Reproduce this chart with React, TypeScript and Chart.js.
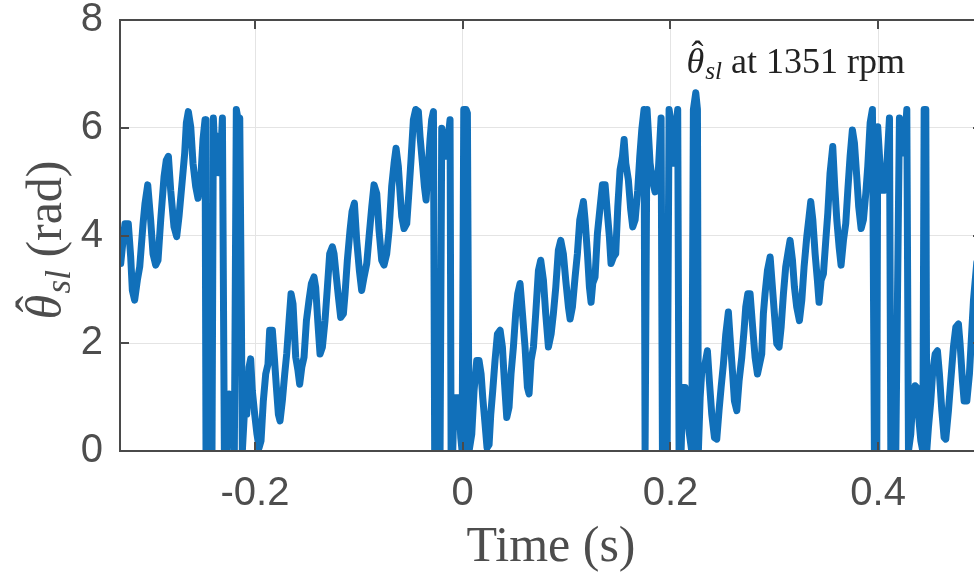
import React, { useEffect, useRef } from 'react';
import { Chart, registerables } from 'chart.js';

Chart.register(...registerables);

// ---- data ----
const TIME_S = [
  -0.3293, -0.3277, -0.3252, -0.3220, -0.3197, -0.3181, -0.3159, -0.3133, -0.3110, -0.3078,
  -0.3059, -0.3033, -0.3005, -0.2982, -0.2956, -0.2934, -0.2908, -0.2876, -0.2854, -0.2834,
  -0.2812, -0.2780, -0.2754, -0.2732, -0.2700, -0.2677, -0.2661, -0.2642, -0.2619, -0.2597,
  -0.2571, -0.2549, -0.2523, -0.2501, -0.2481, -0.2472, -0.2414,
  -0.2401, -0.2379, -0.2356, -0.2337, -0.2314, -0.2295, -0.2269, -0.2250, -0.2234, -0.2221,
  -0.2199, -0.2180, -0.2160, -0.2147, -0.2131, -0.2122, -0.2103, -0.2080, -0.2058, -0.2042,
  -0.2026, -0.2003, -0.1981, -0.1961, -0.1942, -0.1920, -0.1897, -0.1875, -0.1859, -0.1833,
  -0.1814, -0.1794, -0.1775, -0.1759, -0.1737, -0.1714, -0.1695, -0.1672, -0.1653, -0.1634,
  -0.1608, -0.1586, -0.1570, -0.1550, -0.1528, -0.1505, -0.1480, -0.1457, -0.1432, -0.1416,
  -0.1396, -0.1374, -0.1351, -0.1326, -0.1303, -0.1281, -0.1255,
  -0.1239, -0.1220, -0.1197, -0.1175, -0.1149, -0.1133, -0.1111, -0.1085, -0.1066, -0.1043,
  -0.1021, -0.0995, -0.0973, -0.0950, -0.0924, -0.0899, -0.0876, -0.0854, -0.0828, -0.0806,
  -0.0780, -0.0758, -0.0732, -0.0709, -0.0684, -0.0661, -0.0642, -0.0620, -0.0603, -0.0587,
  -0.0565, -0.0539, -0.0517, -0.0498, -0.0475, -0.0453, -0.0427, -0.0411, -0.0388, -0.0369,
  -0.0353, -0.0331, -0.0315, -0.0299, -0.0282, -0.0270, -0.0250, -0.0234, -0.0218, -0.0202,
  -0.0186, -0.0170, -0.0154, -0.0138, -0.0122, -0.0112, -0.0096, -0.0083, -0.0058, -0.0039,
  -0.0019, -0.0006, 0.0010, 0.0032, 0.0045, 0.0061, 0.0087, 0.0109, 0.0135, 0.0157,
  0.0177, 0.0193, 0.0215, 0.0234, 0.0254, 0.0270, 0.0289, 0.0311, 0.0334, 0.0360,
  0.0382, 0.0401, 0.0424, 0.0446, 0.0465, 0.0488, 0.0510, 0.0530, 0.0552, 0.0575,
  0.0600, 0.0623, 0.0639, 0.0658, 0.0681, 0.0703, 0.0729, 0.0751, 0.0777, 0.0799,
  0.0825, 0.0851, 0.0873, 0.0896, 0.0921, 0.0944, 0.0969, 0.0992, 0.1018, 0.1034,
  0.1056, 0.1082, 0.1104, 0.1127, 0.1146, 0.1162, 0.1178, 0.1201, 0.1220, 0.1236,
  0.1252, 0.1274, 0.1297, 0.1323, 0.1345, 0.1371, 0.1393, 0.1412, 0.1428, 0.1451,
  0.1473, 0.1493, 0.1515, 0.1538, 0.1554, 0.1570, 0.1595, 0.1618, 0.1637, 0.1660,
  0.1685, 0.1705, 0.1724, 0.1746, 0.1756, 0.1775, 0.1804, 0.1826, 0.1852, 0.1884,
  0.1910, 0.1923, 0.1948, 0.1968, 0.1987, 0.2013, 0.2029, 0.2045, 0.2070, 0.2083,
  0.2103, 0.2119, 0.2141, 0.2160, 0.2183, 0.2205, 0.2221, 0.2244, 0.2260, 0.2269,
  0.2286, 0.2302, 0.2327, 0.2356, 0.2375, 0.2398, 0.2424, 0.2446, 0.2468, 0.2488,
  0.2510, 0.2533, 0.2558, 0.2574, 0.2597, 0.2616, 0.2639, 0.2661, 0.2687, 0.2709,
  0.2725, 0.2745, 0.2767, 0.2789, 0.2815, 0.2838,
  0.2879, 0.2895, 0.2911, 0.2934, 0.2960, 0.2982, 0.3001, 0.3024, 0.3046, 0.3066,
  0.3088, 0.3110, 0.3136, 0.3152, 0.3175, 0.3194, 0.3216, 0.3242, 0.3265, 0.3287,
  0.3313, 0.3335, 0.3351, 0.3371, 0.3393, 0.3415, 0.3431, 0.3451, 0.3473, 0.3496,
  0.3515, 0.3537, 0.3563, 0.3582, 0.3602, 0.3624, 0.3643, 0.3666, 0.3688, 0.3708,
  0.3730, 0.3752, 0.3772, 0.3794, 0.3813, 0.3836, 0.3858, 0.3881, 0.3900, 0.3923,
  0.3945, 0.3964, 0.3987, 0.3996, 0.4019, 0.4035, 0.4057, 0.4083, 0.4109, 0.4122,
  0.4147, 0.4170, 0.4205, 0.4221, 0.4244, 0.4260, 0.4276, 0.4292, 0.4314, 0.4334,
  0.4356, 0.4372, 0.4388, 0.4411, 0.4430, 0.4443, 0.4459, 0.4468, 0.4484, 0.4507,
  0.4526, 0.4549, 0.4571, 0.4590, 0.4613, 0.4635, 0.4651, 0.4677, 0.4699, 0.4725,
  0.4748, 0.4773, 0.4789, 0.4812, 0.4828, 0.4854, 0.4879, 0.4902, 0.4918, 0.4950,
];

const THETA_RAD = [
  3.48, 3.79, 4.22, 4.22, 3.60, 2.98, 2.80, 3.17, 3.42, 4.22,
  4.60, 4.94, 4.29, 3.66, 3.45, 3.54, 4.29, 5.09, 5.40, 5.47,
  4.84, 4.16, 3.98, 4.35, 5.03, 5.53, 6.09, 6.30, 6.02, 5.34,
  4.91, 4.69, 5.03, 5.78, 6.15, 0, 0,
  6.18, 5.16, 5.84, 5.16, 6.18, 0, 0, 1.06, 0.68, 1.02,
  0, 6.34, 6.12, 6.18, 2.42, 0, 0.68, 0.68, 1.55, 1.71,
  1.12, 0.68, 0.31, 0.06, 0.19, 0.93, 1.43, 1.61, 2.24, 2.24,
  1.74, 1.18, 0.68, 0.56, 0.93, 1.43, 1.80, 2.42, 2.92, 2.73,
  1.74, 1.49, 1.24, 1.55, 1.74, 2.42, 2.80, 3.11, 3.23, 3.04,
  2.42, 1.80, 1.93, 2.42, 3.04, 3.66, 3.79,
  3.66, 3.29, 2.86, 2.48, 2.55, 2.92, 3.54, 4.10, 4.44, 4.60,
  3.91, 3.35, 2.98, 3.23, 3.48, 4.04, 4.53, 4.94, 4.78, 4.10,
  3.54, 3.45, 3.66, 4.10, 4.91, 5.34, 5.62, 5.28, 4.78, 4.35,
  4.13, 4.22, 4.84, 5.40, 6.15, 6.34, 6.30, 5.84, 5.34, 4.91,
  4.66, 5.28, 5.78, 6.15, 6.30, 0, 0, 0.50, 0, 5.99,
  5.84, 5.47, 5.47, 5.84, 6.15, 0, 0, 0.99, 0.99, 0.99,
  0.25, 0, 6.34, 6.34, 6.27, 0, 0.31, 1.12, 1.68, 1.68,
  1.43, 0.99, 0.50, 0.06, 0.12, 0.68, 1.12, 1.68, 2.17, 2.24,
  1.93, 1.30, 0.62, 0.81, 1.43, 1.93, 2.55, 2.92, 3.11, 2.55,
  1.93, 1.18, 1.06, 1.68, 1.93, 2.55, 3.35, 3.54, 3.17, 2.55,
  1.93, 2.17, 2.55, 3.04, 3.73, 3.91, 3.66, 3.17, 2.67, 2.45,
  2.67, 3.23, 3.66, 4.29, 4.47, 4.63, 4.29, 3.66, 3.04, 2.76,
  3.11, 3.23, 4.04, 4.53, 4.94, 4.94, 4.41, 3.98, 3.48, 3.60,
  3.66, 4.53, 5.22, 5.47, 5.78, 5.34, 5.03, 4.47, 4.16, 4.29,
  4.84, 5.47, 5.96, 6.34, 0, 6.34, 5.34, 5.03, 4.81, 5.22,
  6.18, 0, 0.50, 0, 6.34, 6.02, 5.34, 5.78, 6.34, 0,
  0, 1.18, 1.18, 0.68, 0.31, 0, 6.34, 6.65, 6.34, 0,
  0.99, 1.49, 1.55, 1.86, 1.30, 0.68, 0.25, 0.22, 0.75, 1.18,
  1.61, 2.17, 2.58, 2.11, 1.49, 0.93, 0.75, 1.30, 1.74, 2.24,
  2.67, 2.92, 2.92, 2.36, 1.74, 1.43,
  1.80, 2.55, 2.92, 3.35, 3.60, 3.04, 2.55, 1.99, 1.93, 2.30,
  2.92, 3.42, 3.73, 3.91, 3.54, 3.04, 2.67, 2.42, 2.80, 3.42,
  3.98, 4.35, 4.63, 4.29, 3.66, 3.17, 2.76, 3.17, 3.29, 3.91,
  4.41, 5.16, 5.65, 4.91, 4.29, 3.79, 3.45, 3.91, 4.22, 4.84,
  5.47, 5.96, 5.71, 5.09, 4.53, 4.13, 4.29, 4.78, 5.28, 6.09,
  6.34, 0, 0, 6.02, 5.28, 4.84, 4.84, 5.28, 6.18, 0,
  0.50, 0, 6.18, 5.84, 5.53, 5.84, 6.34, 0, 0.31, 0.99,
  1.21, 1.18, 0.68, 0.19, 0, 6.34, 6.34, 0, 0.43, 0.93,
  1.49, 1.80, 1.86, 1.43, 0.75, 0.25, 0.22, 0.75, 1.30, 1.93,
  2.30, 2.36, 1.99, 1.30, 0.93, 0.93, 1.43, 2.24, 2.80, 3.50,
];

const X_TICKS = [-0.2, 0, 0.2, 0.4];
const X_TICK_LABELS = ['-0.2', '0', '0.2', '0.4'];
const Y_TICKS = [0, 2, 4, 6, 8];
const Y_TICK_LABELS = ['0', '2', '4', '6', '8'];
const X_MIN = -0.33;
const X_MAX = 0.5;
const Y_MIN = 0;
const Y_MAX = 8;

const X_TITLE = 'Time (s)';
const Y_TITLE_UNIT = ' (rad)';
const THETA = '\u03B8';
const HAT = '\u02C6';
const THETA_SUB = 'sl';
const ANNOTATION_TEXT = ' at 1351 rpm';
const ANNOTATION_AT = { x: 0.2154, y: 7.02 };

// ---- styles ----
const LINE_COLOR = '#1170ba';
const AXIS_COLOR = '#4a4a4a';
const GRID_COLOR = '#e4e4e4';
const TEXT_COLOR = '#4d4d4d';
const ANNOT_COLOR = '#222222';
const SANS = '"Liberation Sans", Arial, sans-serif';
const SERIF = '"Liberation Serif", "Times New Roman", serif';

function thetaWidths(ctx: CanvasRenderingContext2D, size: number) {
  ctx.font = `italic ${size}px ${SERIF}`;
  const w1 = ctx.measureText(THETA).width;
  ctx.font = `italic ${size * 0.7}px ${SERIF}`;
  const w2 = ctx.measureText(THETA_SUB).width;
  return { w1, w2, total: w1 + size * 0.03 + w2 };
}

function drawThetaSl(ctx: CanvasRenderingContext2D, x: number, y: number, size: number): number {
  const { w1, total } = thetaWidths(ctx, size);
  ctx.font = `italic ${size}px ${SERIF}`;
  ctx.fillText(THETA, x, y);
  ctx.save();
  ctx.font = `${size}px ${SERIF}`;
  ctx.textAlign = 'center';
  ctx.fillText(HAT, x + w1 * 0.62, y - size * 0.2);
  ctx.restore();
  ctx.font = `italic ${size * 0.7}px ${SERIF}`;
  ctx.fillText(THETA_SUB, x + w1 + size * 0.03, y + size * 0.17);
  return total;
}

const framePlugin = {
  id: 'matlabFrame',
  afterDraw(chart: any) {
    const ctx: CanvasRenderingContext2D = chart.ctx;
    const { left, top, right, bottom } = chart.chartArea;
    const xs = chart.scales.x;
    const ys = chart.scales.y;
    ctx.save();
    ctx.strokeStyle = AXIS_COLOR;
    ctx.lineWidth = 2;
    ctx.beginPath();
    ctx.rect(left, top, right - left, bottom - top);
    const tl = 9;
    X_TICKS.forEach((v) => {
      const px = Math.round(xs.getPixelForValue(v));
      ctx.moveTo(px, top);
      ctx.lineTo(px, top + tl);
      ctx.moveTo(px, bottom);
      ctx.lineTo(px, bottom - tl);
    });
    Y_TICKS.forEach((v) => {
      const py = Math.round(ys.getPixelForValue(v));
      ctx.moveTo(left, py);
      ctx.lineTo(left + tl, py);
      ctx.moveTo(right, py);
      ctx.lineTo(right - tl, py);
    });
    ctx.stroke();

    // annotation
    ctx.fillStyle = ANNOT_COLOR;
    ctx.textAlign = 'left';
    ctx.textBaseline = 'alphabetic';
    const ax = xs.getPixelForValue(ANNOTATION_AT.x);
    const ay = ys.getPixelForValue(ANNOTATION_AT.y);
    const aSize = 36;
    const wTheta = drawThetaSl(ctx, ax, ay, aSize);
    ctx.font = `${aSize}px ${SERIF}`;
    ctx.fillText(ANNOTATION_TEXT, ax + wTheta, ay);

    // x title
    ctx.fillStyle = TEXT_COLOR;
    ctx.font = `50px ${SERIF}`;
    ctx.textAlign = 'center';
    ctx.textBaseline = 'middle';
    ctx.fillText(X_TITLE, (left + right) / 2, 548);

    // y title (rotated)
    const ySize = 50;
    ctx.textAlign = 'left';
    ctx.textBaseline = 'alphabetic';
    const wT = thetaWidths(ctx, ySize).total;
    ctx.font = `${ySize}px ${SERIF}`;
    const wU = ctx.measureText(Y_TITLE_UNIT).width;
    const total = wT + wU;
    ctx.translate(61, 240);
    ctx.rotate(-Math.PI / 2);
    drawThetaSl(ctx, -total / 2, 0, ySize);
    ctx.font = `${ySize}px ${SERIF}`;
    ctx.fillText(Y_TITLE_UNIT, -total / 2 + wT, 0);
    ctx.restore();
  },
};

export default function App() {
  const canvasRef = useRef<HTMLCanvasElement | null>(null);

  useEffect(() => {
    const canvas = canvasRef.current;
    if (!canvas) return;
    const points = TIME_S.map((t, i) => ({ x: t, y: THETA_RAD[i] }));
    const chart = new Chart(canvas, {
      type: 'line',
      data: {
        datasets: [
          {
            data: points,
            borderColor: LINE_COLOR,
            borderWidth: 7,
            pointRadius: 0,
            tension: 0,
            fill: false,
            borderJoinStyle: 'round',
            borderCapStyle: 'round',
            clip: 0,
          } as any,
        ],
      },
      options: {
        responsive: false,
        animation: false,
        devicePixelRatio: 1,
        layout: { padding: { left: 0, right: 18, top: 0, bottom: 0 } },
        plugins: { legend: { display: false }, tooltip: { enabled: false }, title: { display: false } },
        scales: {
          x: {
            type: 'linear',
            min: X_MIN,
            max: X_MAX,
            afterBuildTicks: (s: any) => {
              s.ticks = X_TICKS.map((v) => ({ value: v }));
            },
            afterFit: (s: any) => {
              s.height = 127;
            },
            grid: { color: GRID_COLOR, lineWidth: 1, drawTicks: false },
            border: { display: false },
            ticks: {
              autoSkip: false,
              maxRotation: 0,
              padding: 19,
              color: TEXT_COLOR,
              font: { family: SANS, size: 40 },
              callback: (v: any) => {
                const i = X_TICKS.indexOf(v);
                return i >= 0 ? X_TICK_LABELS[i] : '';
              },
            },
          },
          y: {
            type: 'linear',
            min: Y_MIN,
            max: Y_MAX,
            afterBuildTicks: (s: any) => {
              s.ticks = Y_TICKS.map((v) => ({ value: v }));
            },
            afterFit: (s: any) => {
              s.width = 120;
              s.paddingTop = 20;
              s.paddingBottom = 0;
            },
            grid: { color: GRID_COLOR, lineWidth: 1, drawTicks: false },
            border: { display: false },
            ticks: {
              autoSkip: false,
              padding: 17,
              color: TEXT_COLOR,
              font: { family: SANS, size: 40, lineHeight: 1.0 },
              callback: (v: any) => {
                const i = Y_TICKS.indexOf(v);
                return i >= 0 ? Y_TICK_LABELS[i] : '';
              },
            },
          },
        },
      },
      plugins: [framePlugin],
    });
    return () => chart.destroy();
  }, []);

  return (
    <div
      style={{
        position: 'fixed',
        left: 0,
        top: 0,
        width: 974,
        height: 578,
        overflow: 'hidden',
        background: '#ffffff',
      }}
    >
      <canvas ref={canvasRef} width={1000} height={578} style={{ display: 'block', width: 1000, height: 578 }} />
    </div>
  );
}
